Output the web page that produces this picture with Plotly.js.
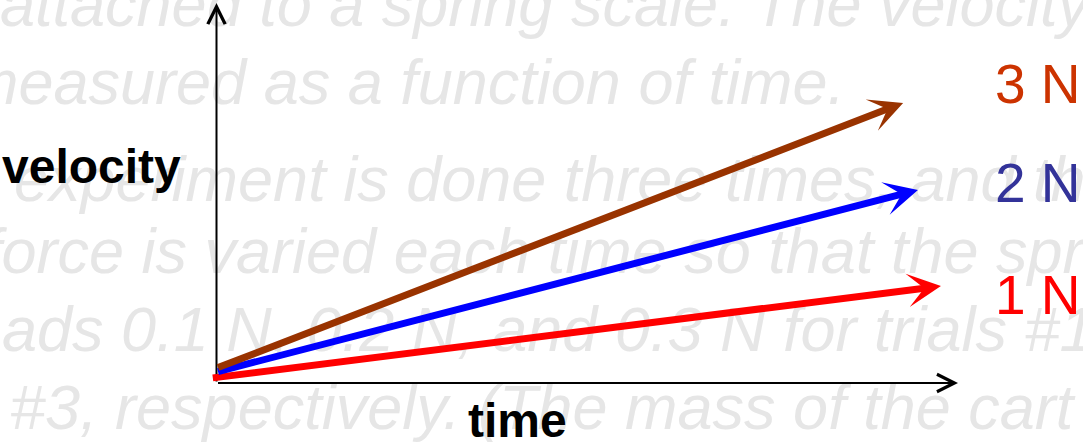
<!DOCTYPE html>
<html>
<head>
<meta charset="utf-8">
<script src="https://cdn.plot.ly/plotly-3.0.1.min.js"></script>
<style>
html,body{margin:0;padding:0;background:#ffffff;overflow:hidden;}
#chart{width:1083px;height:446px;}
</style>
</head>
<body>
<div id="chart"></div>
<script>
// ---- data ----
const forces = ['1 N', '2 N', '3 N'];
const tStart = [-0.07, 0.00, 0.00];
const vStart = [0.13, 0.29, 0.39];
const tEnd = [9.77, 9.46, 9.26];
const vEnd = [2.55, 5.08, 7.37];
const axisLabels = { x: 'time', y: 'velocity' };
const backgroundLines = [
  'attached to a spring scale. The velocity of the cart is',
  'measured as a function of time.',
  'experiment is done three times, and the',
  'force is varied each time so that the spring scale',
  'reads 0.1 N, 0.2 N, and 0.3 N for trials #1, #2, and',
  '#3, respectively. (The mass of the cart is'
];

// ---- styles / layout ----
const W = 1083, H = 446;
const arrowColors = ['#ff0000', '#0000ff', '#993300'];
const labelColors = ['#ff0000', '#333399', '#cc3300'];
const FONT = 'Liberation Sans, Arial, Helvetica, sans-serif';
const bgSize = 63, bgColor = '#e6e6e6';
const bgLeft = [0, -34, 14, -16, -54, 10];
const bgBase = [26, 104, 201, 273, 351, 429];
const labelLeft = 995, labelBase = [314, 202, 103], labelSize = 55;
const axisLabelSize = 48;

function px2x(px) { return px / W; }
function base2y(base, fs) { return 1 - (base - 0.3465 * fs) / H; }

const annotations = [];
backgroundLines.forEach((t, i) => {
  annotations.push({
    xref: 'paper', yref: 'paper', x: px2x(bgLeft[i]), y: base2y(bgBase[i], bgSize),
    xanchor: 'left', yanchor: 'middle', showarrow: false, text: t,
    borderpad: 0, borderwidth: 0,
    font: { family: FONT, size: bgSize, color: bgColor, style: 'italic' }
  });
});

// axes with arrowheads
annotations.push({
  xref: 'x', yref: 'y', axref: 'x', ayref: 'y', x: 0, y: 10, ax: 0, ay: 0,
  text: '', showarrow: true, arrowhead: 5, arrowwidth: 2, arrowsize: 1.7,
  arrowcolor: '#000000', standoff: 0
});
annotations.push({
  xref: 'x', yref: 'y', axref: 'x', ayref: 'y', x: 10, y: 0, ax: 0, ay: 0,
  text: '', showarrow: true, arrowhead: 5, arrowwidth: 2, arrowsize: 1.7,
  arrowcolor: '#000000', standoff: 0
});

// force arrows
forces.forEach((f, i) => {
  annotations.push({
    xref: 'x', yref: 'y', axref: 'x', ayref: 'y',
    x: tEnd[i], y: vEnd[i], ax: tStart[i], ay: vStart[i],
    text: '', showarrow: true, arrowhead: 3, arrowwidth: 7, arrowsize: 0.8,
    arrowcolor: arrowColors[i], standoff: 0
  });
});

// force labels
forces.forEach((f, i) => {
  annotations.push({
    xref: 'paper', yref: 'paper', x: px2x(labelLeft), y: base2y(labelBase[i], labelSize),
    xanchor: 'left', yanchor: 'middle', showarrow: false, text: f,
    borderpad: 0, borderwidth: 0,
    font: { family: FONT, size: labelSize, color: labelColors[i] }
  });
});

// axis labels
annotations.push({
  xref: 'paper', yref: 'paper', x: px2x(2), y: base2y(183, axisLabelSize),
  xanchor: 'left', yanchor: 'middle', showarrow: false, text: axisLabels.y,
  borderpad: 0, borderwidth: 0,
  font: { family: FONT, size: axisLabelSize, color: '#000000', weight: 'bold' }
});
annotations.push({
  xref: 'paper', yref: 'paper', x: px2x(468), y: base2y(437, axisLabelSize),
  xanchor: 'left', yanchor: 'middle', showarrow: false, text: axisLabels.x,
  borderpad: 0, borderwidth: 0,
  font: { family: FONT, size: axisLabelSize, color: '#000000', weight: 'bold' }
});

const layout = {
  width: W, height: H,
  margin: { l: 0, r: 0, t: 0, b: 0, pad: 0 },
  paper_bgcolor: '#ffffff', plot_bgcolor: 'rgba(0,0,0,0)',
  showlegend: false,
  xaxis: { range: [0, 10], domain: [216.5 / W, 958 / W], visible: false, fixedrange: true },
  yaxis: { range: [0, 10], domain: [(H - 383) / H, (H - 3) / H], visible: false, fixedrange: true },
  annotations: annotations
};

Plotly.newPlot('chart', [], layout, { displayModeBar: false, staticPlot: true });
</script>
</body>
</html>
